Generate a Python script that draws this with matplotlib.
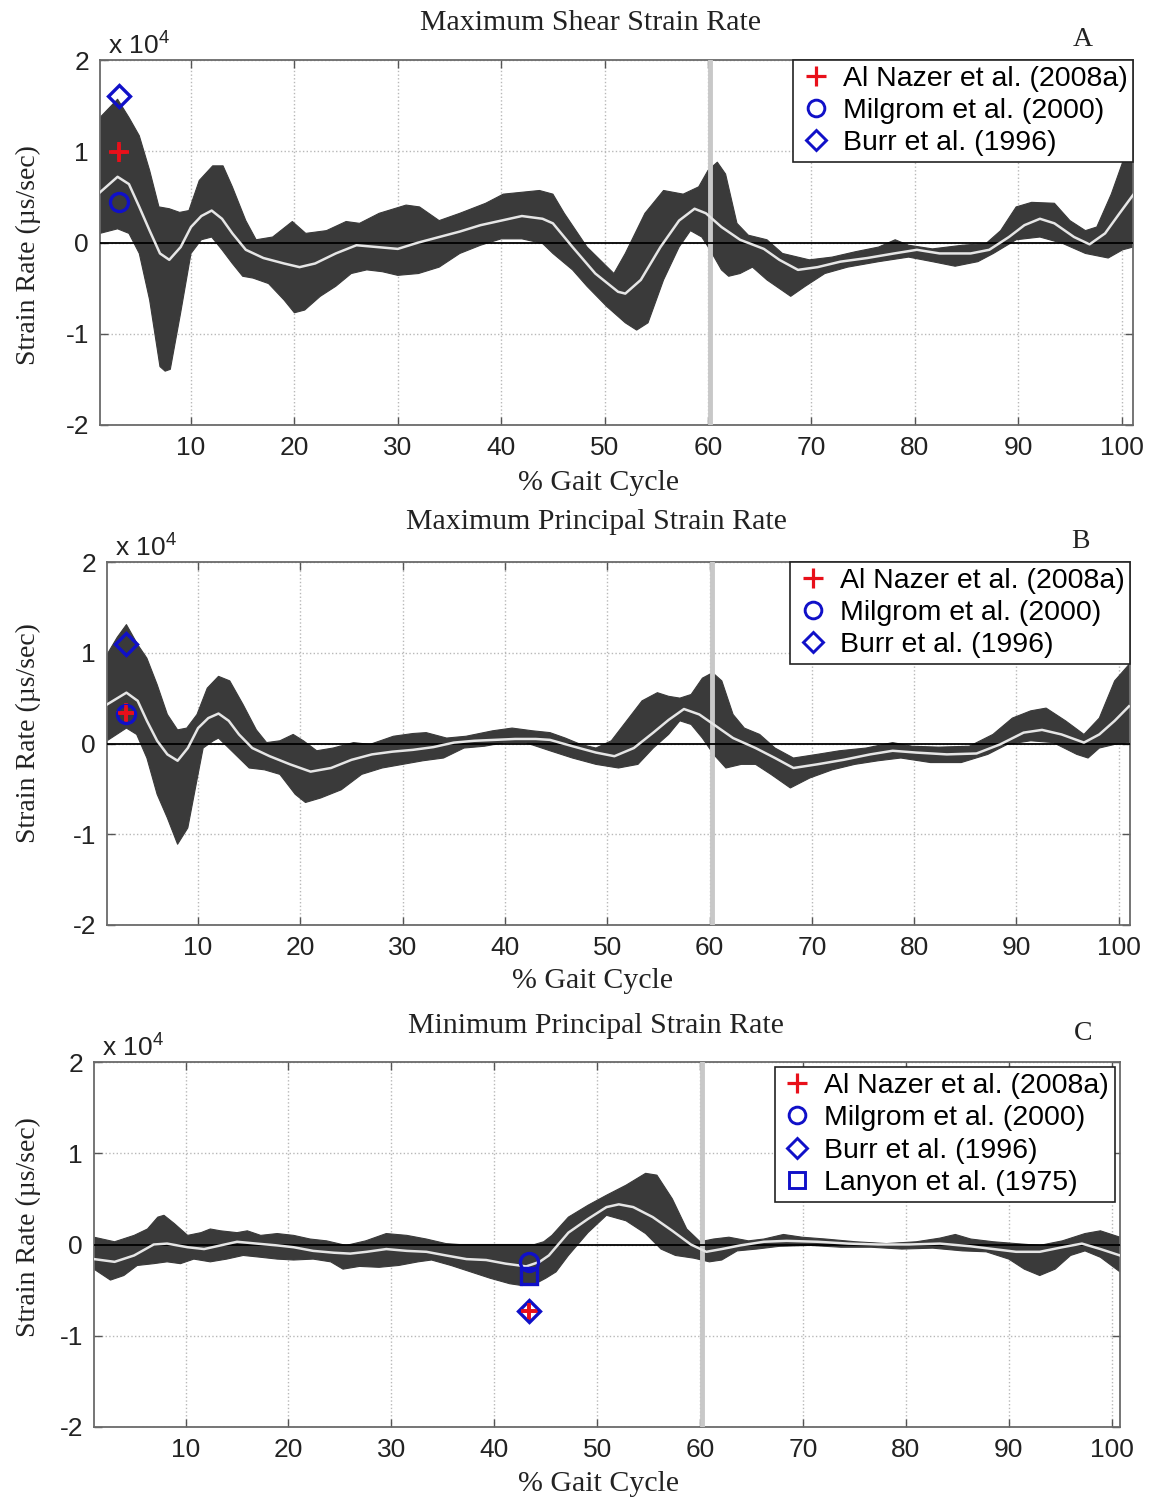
import numpy as np
import matplotlib
matplotlib.use('Agg')
import matplotlib.pyplot as plt
from matplotlib.lines import Line2D


# strain rate values in units of 1e4 microstrain/sec, (gait %, value) pairs
A_UPPER = [(1.2, 1.37), (2.9, 1.57), (4.0, 1.37), (5.0, 1.17), (6.0, 0.79), (6.9, 0.39), (7.9, 0.37),
           (8.9, 0.33), (9.8, 0.35), (10.8, 0.68), (12.1, 0.84), (13.1, 0.84), (14.0, 0.61), (15.3, 0.24),
           (16.3, 0.03), (17.9, 0.06), (19.8, 0.23), (21.1, 0.10), (23.1, 0.13), (25.0, 0.23), (26.3, 0.21),
           (28.2, 0.32), (30.8, 0.41), (32.1, 0.39), (34.0, 0.24), (36.0, 0.32), (38.5, 0.43), (40.2, 0.53),
           (43.7, 0.57), (45.0, 0.53), (46.1, 0.32), (48.3, -0.05), (50.9, -0.34), (52.0, -0.12), (53.9, 0.32),
           (55.7, 0.57), (57.6, 0.53), (59.1, 0.61), (60.0, 0.79), (60.9, 0.88), (61.7, 0.75), (62.8, 0.21),
           (63.9, 0.08), (65.7, 0.03), (67.2, -0.12), (69.8, -0.19), (72.0, -0.16), (74.3, -0.10), (76.5, -0.05),
           (78.1, 0.03), (79.4, -0.03), (81.7, -0.07), (84.6, -0.03), (86.9, -0.01), (88.3, 0.13), (89.8, 0.39),
           (91.3, 0.44), (93.5, 0.43), (95.0, 0.24), (96.5, 0.13), (97.6, 0.17), (99.0, 0.53), (100.1, 0.88),
           (101.1, 0.88)]
A_MEAN = [(1.2, 0.55), (2.9, 0.72), (4.0, 0.64), (5.0, 0.39), (6.0, 0.13), (7.0, -0.12), (7.9, -0.19),
          (9.0, -0.05), (10.0, 0.17), (11.0, 0.29), (12.0, 0.35), (13.0, 0.26), (14.0, 0.10), (15.3, -0.08),
          (17.0, -0.17), (19.0, -0.23), (20.5, -0.27), (22.0, -0.23), (24.0, -0.12), (26.0, -0.03), (28.0, -0.05),
          (30.0, -0.07), (32.0, 0.0), (34.0, 0.06), (36.0, 0.12), (38.0, 0.19), (40.0, 0.24), (42.0, 0.29),
          (44.0, 0.26), (45.0, 0.21), (46.9, -0.05), (49.1, -0.34), (51.3, -0.54), (52.0, -0.56), (53.5, -0.41),
          (55.4, -0.05), (57.2, 0.24), (58.7, 0.37), (59.8, 0.32), (61.3, 0.17), (63.1, 0.03), (65.4, -0.07),
          (66.9, -0.19), (68.7, -0.30), (70.6, -0.27), (72.8, -0.21), (75.4, -0.17), (78.0, -0.12), (80.2, -0.08),
          (82.4, -0.12), (85.4, -0.12), (87.2, -0.08), (89.1, 0.06), (90.6, 0.19), (92.1, 0.26), (93.5, 0.21),
          (95.4, 0.06), (96.9, -0.02), (98.4, 0.10), (99.8, 0.32), (101.1, 0.52)]
A_LOWER = [(1.2, 0.10), (2.9, 0.15), (4.0, 0.10), (5.0, -0.12), (6.0, -0.63), (7.0, -1.36), (7.5, -1.41),
           (8.0, -1.39), (9.0, -0.77), (10.0, -0.12), (11.0, 0.03), (12.0, 0.06), (13.0, -0.08), (14.0, -0.23),
           (15.0, -0.37), (16.0, -0.39), (17.5, -0.45), (19.0, -0.63), (20.0, -0.77), (21.0, -0.74), (22.5, -0.59),
           (24.0, -0.48), (25.5, -0.34), (27.0, -0.30), (28.5, -0.32), (30.0, -0.36), (32.0, -0.34), (34.0, -0.27),
           (36.0, -0.12), (38.0, -0.03), (40.0, 0.04), (42.0, 0.04), (44.0, -0.01), (45.0, -0.12), (46.9, -0.30),
           (48.3, -0.48), (50.2, -0.70), (52.0, -0.88), (53.1, -0.96), (54.2, -0.88), (55.7, -0.41), (57.2, -0.05),
           (58.3, 0.13), (59.4, 0.06), (60.2, -0.08), (61.3, -0.30), (62.0, -0.37), (63.1, -0.34), (64.3, -0.27),
           (65.7, -0.41), (68.0, -0.59), (69.4, -0.48), (71.3, -0.34), (73.5, -0.27), (76.5, -0.21), (79.4, -0.16),
           (81.7, -0.21), (83.9, -0.26), (86.1, -0.21), (87.6, -0.12), (89.8, 0.03), (92.1, 0.06), (94.3, -0.01),
           (96.5, -0.12), (98.7, -0.17), (100.1, -0.08), (101.1, -0.05)]

B_UPPER = [(1.1, 0.98), (2.1, 1.17), (3.0, 1.31), (4.1, 1.09), (5.0, 0.94), (6.0, 0.65), (7.0, 0.32),
           (8.0, 0.15), (8.9, 0.17), (9.9, 0.32), (10.9, 0.61), (12.0, 0.74), (13.1, 0.69), (14.4, 0.43),
           (15.7, 0.15), (16.7, 0.01), (18.0, 0.03), (19.3, 0.10), (20.3, 0.03), (21.6, -0.08), (23.2, -0.05),
           (25.2, 0.01), (26.8, -0.01), (29.1, 0.08), (31.0, 0.11), (32.3, 0.12), (34.3, 0.06), (36.2, 0.08),
           (38.8, 0.14), (40.7, 0.17), (42.7, 0.14), (44.4, 0.12), (45.9, 0.06), (47.4, -0.01), (48.9, -0.05),
           (50.4, 0.03), (51.9, 0.25), (53.4, 0.47), (54.9, 0.56), (56.0, 0.52), (57.1, 0.50), (58.2, 0.54),
           (59.3, 0.72), (60.3, 0.78), (61.2, 0.69), (62.3, 0.32), (63.4, 0.17), (64.9, 0.10), (66.4, -0.05),
           (68.2, -0.16), (70.5, -0.12), (72.7, -0.08), (75.3, -0.05), (77.9, 0.01), (79.8, -0.03), (82.4, -0.04),
           (85.4, -0.03), (87.7, 0.10), (89.6, 0.28), (91.4, 0.36), (92.9, 0.39), (94.8, 0.25), (96.6, 0.10),
           (98.1, 0.28), (99.6, 0.69), (101.0, 0.87)]
B_MEAN = [(1.1, 0.43), (3.0, 0.56), (4.1, 0.47), (5.0, 0.25), (6.0, 0.03), (7.0, -0.12), (8.0, -0.19),
          (9.0, -0.05), (10.0, 0.17), (11.0, 0.28), (12.0, 0.33), (13.0, 0.25), (14.0, 0.10), (15.3, -0.05),
          (17.0, -0.14), (19.0, -0.23), (21.0, -0.31), (23.0, -0.27), (25.0, -0.18), (27.0, -0.12), (29.0, -0.09),
          (31.0, -0.07), (33.0, -0.04), (35.0, 0.01), (37.0, 0.03), (39.0, 0.04), (41.0, 0.05), (43.0, 0.05),
          (44.4, 0.04), (46.6, -0.03), (48.9, -0.10), (50.7, -0.14), (52.6, -0.05), (54.5, 0.12), (56.0, 0.26),
          (57.5, 0.38), (59.0, 0.32), (60.4, 0.21), (62.3, 0.06), (64.5, -0.05), (66.4, -0.16), (68.2, -0.27),
          (70.5, -0.23), (73.1, -0.18), (75.7, -0.12), (77.9, -0.08), (80.2, -0.10), (83.2, -0.12), (86.1, -0.11),
          (88.4, -0.01), (90.7, 0.12), (92.5, 0.15), (94.4, 0.10), (96.6, 0.01), (98.1, 0.10), (99.6, 0.25),
          (101.0, 0.41)]
B_LOWER = [(1.1, 0.03), (3.0, 0.17), (4.0, 0.10), (5.0, -0.16), (6.0, -0.56), (7.0, -0.82), (8.0, -1.11),
           (9.0, -0.93), (10.0, -0.34), (10.5, -0.05), (11.5, 0.03), (12.0, 0.06), (13.0, -0.05), (14.0, -0.16),
           (15.0, -0.27), (16.5, -0.29), (18.0, -0.34), (19.5, -0.56), (20.5, -0.65), (22.0, -0.60), (24.0, -0.51),
           (26.0, -0.34), (28.0, -0.27), (30.0, -0.23), (32.0, -0.19), (34.0, -0.16), (36.0, -0.05), (38.0, -0.03),
           (40.0, 0.01), (42.0, 0.01), (44.4, -0.08), (46.6, -0.16), (48.9, -0.23), (51.1, -0.27), (53.0, -0.23),
           (54.5, -0.05), (56.0, 0.10), (57.1, 0.25), (58.2, 0.21), (59.3, 0.06), (60.4, -0.12), (61.6, -0.27),
           (63.1, -0.23), (64.5, -0.23), (66.0, -0.34), (67.9, -0.49), (69.8, -0.38), (72.0, -0.29), (74.2, -0.23),
           (76.5, -0.19), (78.7, -0.16), (81.6, -0.21), (84.6, -0.21), (87.2, -0.12), (89.1, -0.01), (91.4, 0.03),
           (93.6, 0.01), (95.9, -0.12), (97.0, -0.16), (98.1, -0.05), (99.6, -0.01), (101.0, 0.01)]

C_UPPER = [(1.1, 0.08), (3.1, 0.03), (5.0, 0.10), (6.3, 0.17), (7.3, 0.30), (7.9, 0.32), (8.9, 0.23),
           (10.2, 0.10), (11.5, 0.13), (12.4, 0.17), (13.4, 0.15), (15.0, 0.13), (16.0, 0.15), (17.3, 0.10),
           (18.9, 0.12), (20.5, 0.10), (22.1, 0.06), (23.7, 0.04), (25.6, -0.01), (27.5, 0.04), (29.5, 0.12),
           (31.5, 0.10), (33.4, 0.06), (35.3, 0.01), (36.6, 0.0), (39.2, 0.0), (42.4, 0.0), (43.9, 0.0),
           (44.8, 0.03), (45.6, 0.10), (47.2, 0.30), (49.1, 0.43), (50.9, 0.54), (52.8, 0.65), (54.7, 0.78),
           (55.8, 0.76), (57.3, 0.50), (58.7, 0.17), (60.0, 0.03), (61.3, 0.06), (62.8, 0.08), (64.7, 0.04),
           (66.2, 0.06), (68.1, 0.11), (69.9, 0.08), (72.2, 0.06), (75.1, 0.03), (78.1, 0.01), (81.0, 0.03),
           (83.3, 0.07), (84.8, 0.11), (86.3, 0.06), (88.5, 0.03), (90.7, 0.01), (93.0, -0.01), (95.2, 0.04),
           (97.4, 0.12), (98.9, 0.15), (100.8, 0.08)]
C_MEAN = [(1.1, -0.16), (3.1, -0.19), (5.0, -0.12), (6.9, 0.0), (8.2, 0.01), (10.2, -0.03), (11.8, -0.05),
          (13.4, -0.01), (15.0, 0.03), (16.9, 0.01), (18.9, -0.01), (20.5, -0.03), (22.4, -0.07), (24.4, -0.09),
          (26.0, -0.10), (27.6, -0.08), (29.5, -0.05), (31.5, -0.07), (33.4, -0.08), (35.3, -0.12), (37.3, -0.16),
          (39.2, -0.17), (41.1, -0.21), (43.1, -0.24), (44.4, -0.19), (45.3, -0.12), (47.2, 0.13), (49.1, 0.28),
          (50.9, 0.41), (52.1, 0.44), (53.5, 0.41), (55.4, 0.30), (57.3, 0.15), (59.1, 0.0), (60.6, -0.08),
          (62.1, -0.05), (63.9, -0.01), (66.2, 0.03), (68.4, 0.04), (71.4, 0.03), (74.4, 0.01), (77.3, 0.0),
          (80.3, 0.0), (83.3, 0.01), (86.3, -0.02), (88.5, -0.05), (90.7, -0.08), (93.0, -0.08), (95.2, -0.03),
          (97.1, 0.01), (98.9, -0.05), (100.8, -0.12)]
C_LOWER = [(1.1, -0.27), (2.7, -0.39), (4.0, -0.34), (5.3, -0.23), (6.9, -0.21), (8.2, -0.19), (9.5, -0.21),
           (10.8, -0.16), (12.4, -0.19), (14.0, -0.16), (15.6, -0.12), (17.3, -0.14), (18.9, -0.16), (20.5, -0.17),
           (22.4, -0.16), (24.1, -0.19), (25.3, -0.27), (26.9, -0.24), (28.8, -0.25), (30.7, -0.23), (32.6, -0.19),
           (33.9, -0.17), (35.8, -0.23), (37.7, -0.30), (39.6, -0.37), (41.5, -0.43), (42.7, -0.45), (44.0, -0.43),
           (45.0, -0.37), (46.0, -0.30), (47.2, -0.12), (49.1, 0.13), (50.9, 0.32), (52.8, 0.26), (54.7, 0.12),
           (56.2, -0.05), (57.6, -0.12), (59.4, -0.15), (60.9, -0.19), (62.1, -0.17), (63.6, -0.07), (65.5, -0.05),
           (67.7, -0.02), (70.7, -0.01), (73.7, -0.03), (76.6, -0.03), (79.6, -0.05), (82.6, -0.04), (85.5, -0.07),
           (87.8, -0.08), (90.0, -0.16), (91.5, -0.27), (93.0, -0.34), (94.5, -0.27), (96.0, -0.12), (97.4, -0.07),
           (98.9, -0.14), (100.8, -0.30)]

# literature values: (gait %, value)
A_REFS = {'Al Nazer et al. (2008a)': (3.0, 0.99), 'Milgrom et al. (2000)': (3.0, 0.44),
          'Burr et al. (1996)': (3.0, 1.61)}
B_REFS = {'Al Nazer et al. (2008a)': (3.0, 0.34), 'Milgrom et al. (2000)': (3.0, 0.32),
          'Burr et al. (1996)': (3.0, 1.10)}
C_REFS = {'Al Nazer et al. (2008a)': (43.4, -0.73), 'Milgrom et al. (2000)': (43.4, -0.19),
          'Burr et al. (1996)': (43.4, -0.73), 'Lanyon et al. (1975)': (43.4, -0.34)}

TITLES = ['Maximum Shear Strain Rate', 'Maximum Principal Strain Rate', 'Minimum Principal Strain Rate']
LETTERS = ['A', 'B', 'C']
TOE_OFF = 60.2

W, H = 1151, 1498
SERIF = 'Liberation Serif'
SANS = 'Liberation Sans'

MARKERS = {
    'Al Nazer et al. (2008a)': dict(marker='+', color='#e8101a', ms=15, mew=2.6),
    'Milgrom et al. (2000)': dict(marker='o', color='#1010c8', ms=13, mew=2.4, mfc='none'),
    'Burr et al. (1996)': dict(marker='D', color='#1010c8', ms=11, mew=2.4, mfc='none'),
    'Lanyon et al. (1975)': dict(marker='s', color='#1010c8', ms=12, mew=2.4, mfc='none'),
}


def px_box(left, top, right, bottom):
    return [left / W, 1 - bottom / H, (right - left) / W, (bottom - top) / H]


def draw_panel(fig, box, upper, mean, lower, refs, legend_box, xlim):
    ax = fig.add_axes(box)
    ux, uy = np.array(upper).T
    mx, my = np.array(mean).T
    lx, ly = np.array(lower).T

    ax.fill(np.r_[ux, lx[::-1]], np.r_[uy, ly[::-1]], color='#3a3a3a', lw=0.8, ec='#3a3a3a',
            joinstyle='round', zorder=2)
    ax.axvline(TOE_OFF, color='#c8c8c8', lw=3.5, zorder=3)
    ax.axhline(0, color='black', lw=1.3, zorder=4)
    ax.plot(mx, my, color='#e6e6e6', lw=1.8, zorder=5, solid_joinstyle='round')

    handles = []
    order = ['Al Nazer et al. (2008a)', 'Milgrom et al. (2000)', 'Burr et al. (1996)', 'Lanyon et al. (1975)']
    for name in order:
        if name not in refs:
            continue
        x, y = refs[name]
        st = MARKERS[name]
        ax.plot([x], [y], ls='none', zorder=6, marker=st['marker'], color=st['color'],
                ms=st['ms'], mew=st['mew'], mfc=st.get('mfc', st['color']))
        handles.append(Line2D([], [], ls='none', marker=st['marker'], color=st['color'],
                              ms=st['ms'] - 1, mew=st['mew'] - 0.3, mfc=st.get('mfc', st['color']), label=name))
    # draw the red cross on top of the open blue symbols
    x, y = refs['Al Nazer et al. (2008a)']
    st = MARKERS['Al Nazer et al. (2008a)']
    ax.plot([x], [y], ls='none', zorder=7, marker='+', color=st['color'], ms=st['ms'] - 4, mew=st['mew'])

    ax.set_xlim(*xlim)
    ax.set_ylim(-2, 2)
    ax.set_xticks(np.arange(10, 101, 10))
    ax.set_yticks([-2, -1, 0, 1, 2])
    ax.set_yticklabels(['-2', '-1', '0', '1', '2'])
    ax.grid(True, ls=':', color='#b8b8b8', lw=1.0, zorder=1)
    ax.set_axisbelow(True)
    ax.tick_params(direction='in', length=6, width=1.0, top=True, right=True, colors='#555555',
                   labelcolor='#222222', labelsize=19, pad=8)
    for lab in ax.get_xticklabels() + ax.get_yticklabels():
        lab.set_fontfamily(SANS)
    for sp in ax.spines.values():
        sp.set_color('#6a6a6a')
        sp.set_linewidth(1.3)

    ax.text(0.008, 1.005, r'x 10$^{\mathregular{4}}$', transform=ax.transAxes, fontsize=19,
            family=SANS, color='#222222', va='bottom', ha='left')

    leg = ax.legend(handles=handles, loc='upper right', bbox_to_anchor=legend_box,
                    prop={'family': SANS, 'size': 20.5}, frameon=True, fancybox=False,
                    framealpha=1, edgecolor='#222222', borderpad=0.2, labelspacing=0.22,
                    handletextpad=0.35, handlelength=1.2, borderaxespad=0)
    leg.get_frame().set_linewidth(1.2)
    leg.set_zorder(10)
    return ax


fig = plt.figure(figsize=(W / 100, H / 100), dpi=100)

panels = [
    (px_box(100, 60, 1133, 425), A_UPPER, A_MEAN, A_LOWER, A_REFS, (1.0, 1.0), (1.2, 101.1)),
    (px_box(107, 562, 1130, 925), B_UPPER, B_MEAN, B_LOWER, B_REFS, (1.0, 1.0), (1.1, 101.1)),
    (px_box(94, 1062, 1120, 1427), C_UPPER, C_MEAN, C_LOWER, C_REFS, (0.995, 0.985), (1.1, 100.8)),
]
title_pos = [(590, 23), (596, 522), (596, 1026)]
letter_pos = [(1083, 39), (1080, 541), (1083, 1033)]
xlabel_pos = [(598, 483), (593, 981), (598, 1484)]
ylabel_pos = [(28, 255), (28, 733), (28, 1227)]

for i, (box, up, mn, lo, refs, lbox, xl) in enumerate(panels):
    draw_panel(fig, box, up, mn, lo, refs, lbox, xl)
    fig.text(title_pos[i][0] / W, 1 - title_pos[i][1] / H, TITLES[i], family=SERIF, fontsize=21.5,
             ha='center', va='center', color='#222222')
    fig.text(letter_pos[i][0] / W, 1 - letter_pos[i][1] / H, LETTERS[i], family=SERIF, fontsize=20,
             ha='center', va='center', color='#222222')
    fig.text(xlabel_pos[i][0] / W, 1 - xlabel_pos[i][1] / H, '% Gait Cycle', family=SERIF, fontsize=21.5,
             ha='center', va='center', color='#222222')
    fig.text(ylabel_pos[i][0] / W, 1 - ylabel_pos[i][1] / H, 'Strain Rate (\u00b5s/sec)', family=SERIF,
             fontsize=20, ha='center', va='center', rotation=90, color='#222222')

fig.savefig('out.png', dpi=100)
